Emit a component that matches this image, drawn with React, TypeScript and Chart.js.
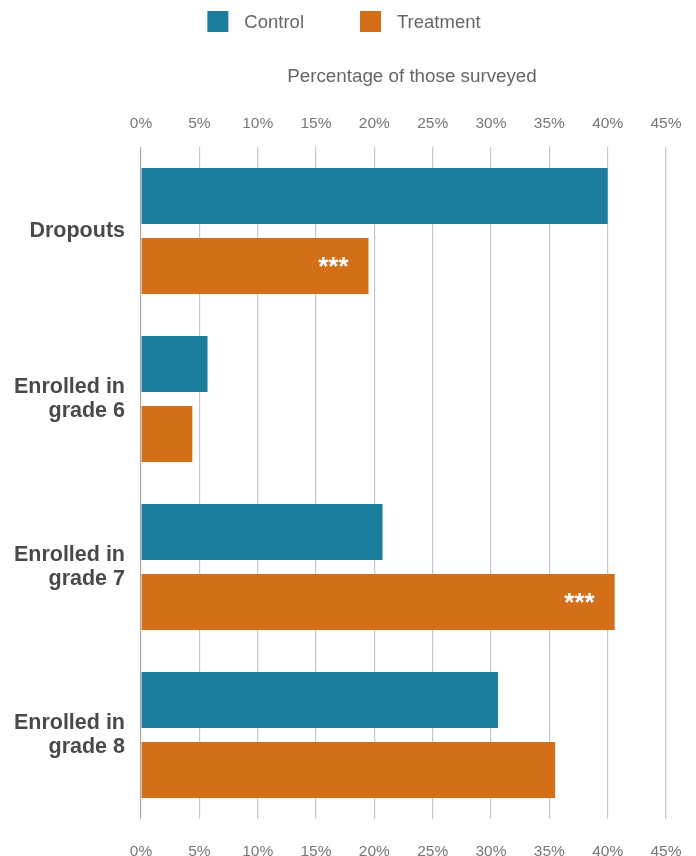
import React, { useEffect, useRef } from "react";
import { Chart, registerables } from "chart.js";

Chart.register(...registerables);

const categories: (string | string[])[] = [
  "Dropouts",
  ["Enrolled in", "grade 6"],
  ["Enrolled in", "grade 7"],
  ["Enrolled in", "grade 8"],
];
const seriesNames = ["Control", "Treatment"];
const controlValues = [40.0, 5.7, 20.7, 30.6];
const treatmentValues = [19.5, 4.4, 40.6, 35.5];
const treatmentSignificance = ["***", "", "***", ""];
const axisMin = 0;
const axisMax = 45;
const axisStep = 5;
const axisTitle = "Percentage of those surveyed";

const CONTROL_COLOR = "#1c7e9c";
const TREATMENT_COLOR = "#d26f18";
const FONT = '"Liberation Sans", Arial, Helvetica, sans-serif';

const headerPlugin = {
  id: "header",
  afterDraw(chart: any) {
    const ctx = chart.ctx;
    const ds = chart.data.datasets;
    ctx.save();
    // legend
    ctx.font = `18.5px ${FONT}`;
    const box = 21;
    const gapText = 16;
    const gapItem = 56;
    const widths = ds.map((d: any) => ctx.measureText(d.label).width);
    let total = 0;
    widths.forEach((w: number, i: number) => {
      total += box + gapText + w + (i < widths.length - 1 ? gapItem : 0);
    });
    let x = chart.width / 2 - 4 - total / 2;
    const top = 11;
    ds.forEach((d: any, i: number) => {
      ctx.fillStyle = d.backgroundColor;
      ctx.fillRect(x, top, box, box);
      ctx.fillStyle = "#666";
      ctx.textAlign = "left";
      ctx.textBaseline = "middle";
      ctx.fillText(d.label, x + box + gapText, top + box / 2 + 1);
      x += box + gapText + widths[i] + gapItem;
    });
    // axis title
    const ca = chart.chartArea;
    ctx.font = `18.8px ${FONT}`;
    ctx.fillStyle = "#666";
    ctx.textAlign = "center";
    ctx.textBaseline = "middle";
    ctx.fillText(axisTitle, (ca.left + ca.right) / 2 + 8.5, 77);
    ctx.restore();
  },
};

const sigPlugin = {
  id: "sigLabels",
  afterDatasetsDraw(chart: any) {
    const ctx = chart.ctx;
    const meta = chart.getDatasetMeta(1);
    ctx.save();
    ctx.font = `bold 26px ${FONT}`;
    ctx.fillStyle = "#ffffff";
    ctx.textAlign = "right";
    ctx.textBaseline = "alphabetic";
    meta.data.forEach((el: any, i: number) => {
      const s = treatmentSignificance[i];
      if (s) ctx.fillText(s, el.x - 20, el.y + 9);
    });
    ctx.restore();
  },
};

export default function App() {
  const ref = useRef<HTMLCanvasElement | null>(null);
  useEffect(() => {
    if (!ref.current) return;
    const tickCb = (v: any) => `${v}%`;
    const chart = new Chart(ref.current, {
      type: "bar",
      data: {
        labels: categories as any,
        datasets: [
          {
            label: seriesNames[0],
            data: controlValues,
            backgroundColor: CONTROL_COLOR,
            borderWidth: 0,
            barPercentage: 0.8,
            categoryPercentage: 0.833,
          },
          {
            label: seriesNames[1],
            data: treatmentValues,
            backgroundColor: TREATMENT_COLOR,
            borderWidth: 0,
            barPercentage: 0.8,
            categoryPercentage: 0.833,
          },
        ],
      },
      options: {
        indexAxis: "y",
        animation: false,
        responsive: false,
        layout: { padding: { top: 0, right: 30, bottom: 0, left: 0 } },
        plugins: {
          legend: { display: false },
          tooltip: { enabled: false },
        },
        scales: {
          x: {
            type: "linear",
            position: "bottom",
            min: axisMin,
            max: axisMax,
            ticks: {
              stepSize: axisStep,
              callback: tickCb,
              color: "#777",
              font: { family: FONT, size: 15.5 },
              padding: 23,
            },
            grid: {
              drawTicks: false,
              color: (c: any) => (c.tick && c.tick.value === 0 ? "#aaaaaa" : "#c8c8c8"),
              lineWidth: 1.2,
            },
            border: { display: false },
            afterFit: (s: any) => {
              s.height = 37;
              s.paddingLeft = 0;
              s.paddingRight = 0;
            },
          },
          x2: {
            type: "linear",
            position: "top",
            min: axisMin,
            max: axisMax,
            ticks: {
              stepSize: axisStep,
              callback: tickCb,
              color: "#777",
              font: { family: FONT, size: 15.5 },
              padding: 14,
            },
            grid: { display: false, drawTicks: false },
            border: { display: false },
            title: { display: false, text: axisTitle },
            afterFit: (s: any) => {
              s.height = 147;
              s.paddingLeft = 0;
              s.paddingRight = 0;
            },
          },
          y: {
            ticks: {
              color: "#4a4a4a",
              font: { family: FONT, size: 21.5, weight: "bold", lineHeight: 1.08 },
              padding: 16,
            },
            grid: { display: false, drawTicks: false },
            border: { display: false },
            afterFit: (s: any) => {
              s.width = 141;
            },
          },
        },
      } as any,
      plugins: [headerPlugin, sigPlugin],
    });
    return () => chart.destroy();
  }, []);
  return (
    <div style={{ position: "absolute", left: 0, top: 0, width: 696, height: 856, background: "#fff" }}>
      <canvas ref={ref} width={696} height={856} style={{ display: "block" }} />
    </div>
  );
}
